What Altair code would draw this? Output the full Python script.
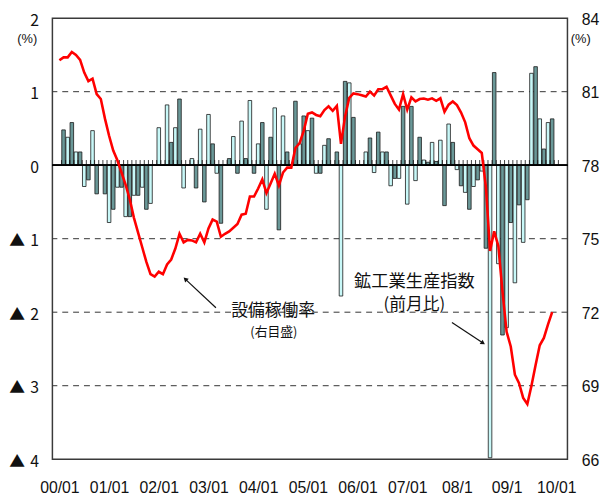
import altair as alt
import pandas as pd

# monthly index: 0 = 2000/01 ... 119 = 2009/12
months = list(range(120))

# 鉱工業生産指数 (前月比, %), left axis
ip_change = [
    None, 0.48, 0.38, 0.58, 0.18, 0.18, -0.29, -0.20, 0.47, -0.39, 0.0, -0.39,
    -0.78, -0.60, -0.30, -0.30, -0.70, -0.70, -0.41, -0.41, -0.30, -0.60, -0.52, 0.0,
    0.51, 0.0, 0.82, 0.31, 0.51, 0.90, -0.31, 0.0, 0.09, -0.31, 0.49, -0.50,
    0.69, 0.29, -0.11, -0.79, 0.0, 0.09, 0.39, -0.11, 0.60, 0.09, 0.88, -0.11,
    0.29, 0.58, -0.60, 0.38, 0.78, -0.88, 0.67, 0.18, 0.0, 0.87, 0.29, 0.67,
    0.47, 0.64, -0.11, -0.11, 0.27, 0.36, 0.0, 0.18, -1.78, 1.14, 1.12, 0.65,
    0.0, 0.0, 0.18, 0.37, -0.10, 0.45, 0.18, 0.18, -0.28, -0.18, -0.18, 0.80,
    -0.53, 0.80, -0.21, 0.38, 0.07, 0.04, 0.31, 0.05, 0.34, -0.55, 0.56, 0.31,
    -0.06, -0.28, -0.37, -0.60, -0.29, -0.20, -0.08, -1.13, -3.98, 1.26, -1.34, -2.31,
    -2.21, -0.78, -1.60, -0.54, -1.05, -0.47, 1.25, 1.34, 0.63, 0.22, 0.58, 0.63,
]

# 設備稼働率 (%), right axis
cap_util = [
    82.28, 82.40, 82.40, 82.62, 82.50, 82.30, 81.78, 81.43, 81.53, 80.90, 80.70, 79.90,
    79.20, 78.60, 78.20, 77.70, 77.20, 76.60, 75.85, 75.25, 74.65, 74.05, 73.55, 73.45,
    73.65, 73.55, 73.95, 74.15, 74.60, 75.20, 74.85, 74.95, 74.93, 74.85, 75.20, 74.85,
    75.42, 75.78, 75.70, 75.08, 75.20, 75.30, 75.45, 75.60, 75.98, 76.02, 76.72, 76.72,
    77.05, 77.42, 76.86, 77.25, 77.65, 77.17, 77.70, 77.90, 77.90, 78.70, 78.90, 79.40,
    80.10, 80.15, 80.05, 80.00, 80.25, 80.40, 80.22, 80.42, 78.87, 80.00, 80.75, 80.93,
    80.90, 80.85, 80.80, 81.00, 80.84, 81.10, 81.10, 81.20, 80.85, 80.50, 80.27, 80.90,
    80.27, 80.77, 80.60, 80.70, 80.72, 80.67, 80.73, 80.63, 80.73, 80.18, 80.47, 80.60,
    80.45, 80.15, 79.75, 79.10, 78.80, 78.65, 78.50, 77.10, 74.50, 75.30, 74.70, 72.85,
    71.20, 70.60, 69.45, 69.10, 68.50, 68.25, 69.00, 69.85, 70.65, 70.95, 71.50, 72.00,
]

x_tick_values = list(range(0, 121, 12))
x_tick_labels = ["00/01", "01/01", "02/01", "03/01", "04/01", "05/01",
                 "06/01", "07/01", "08/1", "09/1", "10/01"]
left_ticks = [-4, -3, -2, -1, 0, 1, 2]
right_ticks = [66, 69, 72, 75, 78, 81, 84]
grid_values = [1, -1, -2, -3]
cat_bounds = [i + 0.5 for i in range(0, 121)]
bar_fills = ["#c8f8f8", "#6a9898"]

# annotations (x in month index, y in left-axis units)
ann_text = ["設備稼働率", "(右目盛)", "鉱工業生産指数", "(前月比)"]
ann_x = [51.6, 51.8, 85.7, 85.7]
ann_y = [-1.99, -2.27, -1.59, -1.90]
ann_size = [17, 13, 17.5, 17]
arrow_x1 = [37.8, 94.8]
arrow_y1 = [-1.94, -2.14]
arrow_x2 = [30.4, 102.3]
arrow_y2 = [-1.55, -2.42]
arrow_angle = [313, 124]

LABEL_FONT = "Liberation Sans, Arial, sans-serif"
LEFT_FONT = "Noto Sans CJK JP"
JP_FONT = "Noto Sans CJK JP"

df_bar = pd.DataFrame({"idx": months, "ip": ip_change}).dropna()
df_bar["shade"] = [bar_fills[int(i) % 2] for i in df_bar["idx"]]
df_line = pd.DataFrame({"idx": months, "cap": cap_util})
df_grid = pd.DataFrame({"g": grid_values})
df_ticks = pd.DataFrame({"t": cat_bounds})
df_ann = pd.DataFrame({"label": ann_text, "x": ann_x, "y": ann_y, "fs": ann_size})
df_arrow = pd.DataFrame({"x1": arrow_x1, "y1": arrow_y1, "x2": arrow_x2,
                         "y2": arrow_y2, "ang": arrow_angle})

xscale = alt.Scale(domain=[-0.5, 121.5], nice=False, zero=False)
yL = alt.Scale(domain=[-4, 2], nice=False, zero=False)
yR = alt.Scale(domain=[66, 84], nice=False, zero=False)

lbl_arr = "[" + ",".join("'%s'" % s for s in x_tick_labels) + "]"
x_axis = alt.Axis(values=x_tick_values, labelExpr=lbl_arr + "[round(datum.value/12)]",
                  domain=False, ticks=False, grid=False, labelPadding=21,
                  labelFontSize=16, labelFont=LABEL_FONT, labelColor="#111",
                  title=None, labelFlush=False)

left_axis = alt.Axis(values=left_ticks, orient="left",
                     labelExpr="datum.value < 0 ? '▲\u2004' + (-datum.value) : '' + datum.value",
                     domain=False, ticks=False, grid=False, labelPadding=14,
                     labelFontSize=16, labelFont=LEFT_FONT, labelColor="#111",
                     labelFlush=False, labelOffset=2,
                     title="(%)", titleAngle=0, titleX=-26, titleY=21,
                     titleAlign="center", titleBaseline="middle",
                     titleFontSize=13, titleFontWeight="normal", titleFont=LABEL_FONT,
                     titleColor="#111")

right_axis = alt.Axis(values=right_ticks, orient="right", domain=False, ticks=False,
                      grid=False, labelPadding=14, labelFontSize=16, labelFont=LABEL_FONT,
                      labelColor="#111", labelFlush=False, labelAlign="left",
                      labelOffset=1,
                      title="(%)", titleAngle=0, titleX=13, titleY=21,
                      titleAlign="center", titleBaseline="middle",
                      titleFontSize=13, titleFontWeight="normal", titleFont=LABEL_FONT,
                      titleColor="#111")

grid = alt.Chart(df_grid).mark_rule(strokeDash=[6, 5], color="#333", strokeWidth=1).encode(
    y=alt.Y("g:Q", scale=yL, axis=left_axis)
)

bars = alt.Chart(df_bar).mark_bar(size=3.6, stroke="#1a1a1a", strokeWidth=0.8).encode(
    x=alt.X("idx:Q", scale=xscale, axis=x_axis),
    y=alt.Y("ip:Q", scale=yL, axis=left_axis),
    fill=alt.Fill("shade:N", scale=None, legend=None),
)

ticks = alt.Chart(df_ticks).mark_rule(color="#111", strokeWidth=0.8).encode(
    x=alt.X("t:Q", scale=xscale),
    y=alt.datum(0),
    y2=alt.datum(0.07),
)

zero = alt.Chart(df_grid).mark_rule(color="black", strokeWidth=1.6).encode(
    y=alt.datum(0)
)

texts = alt.Chart(df_ann).mark_text(font=JP_FONT, color="#111", baseline="middle",
                                    align="center").encode(
    x=alt.X("x:Q", scale=xscale),
    y=alt.Y("y:Q", scale=yL),
    text="label:N",
    size=alt.Size("fs:Q", scale=None, legend=None),
)

arrow_lines = alt.Chart(df_arrow).mark_rule(color="#111", strokeWidth=1.2).encode(
    x=alt.X("x1:Q", scale=xscale), y=alt.Y("y1:Q", scale=yL),
    x2="x2:Q", y2="y2:Q",
)

arrow_heads = alt.Chart(df_arrow).mark_point(shape="triangle-up", filled=True,
                                             color="#111", size=28, opacity=1).encode(
    x=alt.X("x2:Q", scale=xscale), y=alt.Y("y2:Q", scale=yL),
    angle=alt.Angle("ang:Q", scale=None),
)

left_layer = alt.layer(grid, bars, ticks, zero, texts, arrow_lines, arrow_heads)

line = alt.Chart(df_line).mark_line(color="#ff0000", strokeWidth=2.6).encode(
    x=alt.X("idx:Q", scale=xscale),
    y=alt.Y("cap:Q", scale=yR, axis=right_axis),
)

chart = alt.layer(left_layer, line).resolve_scale(y="independent").properties(
    width=522, height=447,
    padding={"left": 45, "top": 7, "right": 34, "bottom": 36},
    autosize=alt.AutoSizeParams(type="none"),
    background="white",
).configure_view(stroke="#3a3a3a", strokeWidth=1.5)

chart.save("out.html", embed_options={"renderer": "svg", "actions": False})
